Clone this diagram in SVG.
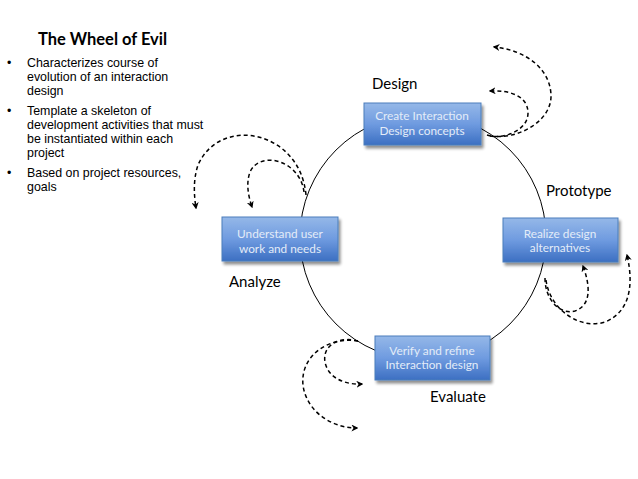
<svg xmlns="http://www.w3.org/2000/svg" width="638" height="479" viewBox="0 0 638 479">
<defs>
<linearGradient id="bg" x1="0" y1="0" x2="0" y2="1">
<stop offset="0" stop-color="#95b8e8"/>
<stop offset="0.5" stop-color="#6f9be0"/>
<stop offset="1" stop-color="#3c6fc2"/>
</linearGradient>
<filter id="sh" x="-10%" y="-10%" width="130%" height="140%">
<feGaussianBlur in="SourceAlpha" stdDeviation="1.5"/>
<feOffset dx="2" dy="3" result="o"/>
<feComponentTransfer><feFuncA type="linear" slope="0.45"/></feComponentTransfer>
<feMerge><feMergeNode/><feMergeNode in="SourceGraphic"/></feMerge>
</filter>
<marker id="ah" viewBox="0 0 10 10" refX="8" refY="5" markerWidth="7" markerHeight="7" markerUnits="userSpaceOnUse" orient="auto">
<path d="M0,0 L10,5 L0,10 L3,5 Z" fill="#000"/>
</marker>
</defs>
<style>
.box{fill:url(#bg);stroke:#4a7ebb;stroke-width:1;filter:url(#sh)}
.bt{font-family:Lato,"Open Sans",sans-serif;font-size:11.8px;fill:#e3ecf8;text-anchor:middle}
.lab{font-family:Lato,"Open Sans",sans-serif;font-size:15px;fill:#000}
.bul{font-family:"Liberation Sans",Arial,sans-serif;font-size:12.4px;fill:#000}
.arr{fill:none;stroke:#000;stroke-width:1.5;stroke-dasharray:4 3;marker-end:url(#ah)}
</style>
<rect width="638" height="479" fill="#fff"/>
<text x="38" y="45" font-family="Lato,'Open Sans',sans-serif" font-size="16.5" font-weight="bold" fill="#000">The Wheel of Evil</text>
<g class="bul">
<text x="7" y="67">•</text>
<text x="27" y="67">Characterizes course of</text>
<text x="27" y="81">evolution of an interaction</text>
<text x="27" y="95">design</text>
<text x="7" y="115">•</text>
<text x="27" y="115">Template a skeleton of</text>
<text x="27" y="129">development activities that must</text>
<text x="27" y="143">be instantiated within each</text>
<text x="27" y="157">project</text>
<text x="7" y="177">•</text>
<text x="27" y="177">Based on project resources,</text>
<text x="27" y="191">goals</text>
</g>
<g id="connectors">
<circle cx="423" cy="237" r="123" fill="none" stroke="#000" stroke-width="1"/>
<path class="arr" d="M487 135 C500 140 528 132 528 113 C528 96 510 90 490 91"/>
<path class="arr" d="M490 136 C520 140 552 120 551 95 C550 68 525 50 494 47"/>
<path class="arr" d="M304 192 C300 160 260 150 250 172 C246 183 248 195 252 207"/>
<path class="arr" d="M306 195 C300 130 220 115 198 165 C193 180 194 195 196 208"/>
<path class="arr" d="M545 278 C545 300 560 315 575 311 C592 305 590 285 583 266"/>
<path class="arr" d="M546 280 C550 310 580 330 605 322 C630 312 634 285 627 255"/>
<path class="arr" d="M358 341 C340 336 322 345 325 362 C328 378 345 385 362 384"/>
<path class="arr" d="M358 341 C330 336 300 355 303 385 C306 410 330 428 357 428"/>
</g>
<g id="design">
<rect class="box" x="364" y="103" width="117" height="42"/>
<text class="bt" x="422" y="120">Create Interaction</text>
<text class="bt" x="422" y="135">Design concepts</text>
<text class="lab" x="372" y="89">Design</text>
</g>
<g id="analyze">
<rect class="box" x="222" y="217" width="116" height="44"/>
<text class="bt" x="280" y="238">Understand user</text>
<text class="bt" x="280" y="253">work and needs</text>
<text class="lab" x="229" y="287">Analyze</text>
</g>
<g id="prototype">
<rect class="box" x="503" y="218" width="115" height="44"/>
<text class="bt" x="560" y="238">Realize design</text>
<text class="bt" x="560" y="252">alternatives</text>
<text class="lab" x="546" y="196">Prototype</text>
</g>
<g id="evaluate">
<rect class="box" x="375" y="336" width="115" height="44"/>
<text class="bt" x="432" y="355">Verify and refine</text>
<text class="bt" x="432" y="369">Interaction design</text>
<text class="lab" x="430" y="402">Evaluate</text>
</g>
</svg>
